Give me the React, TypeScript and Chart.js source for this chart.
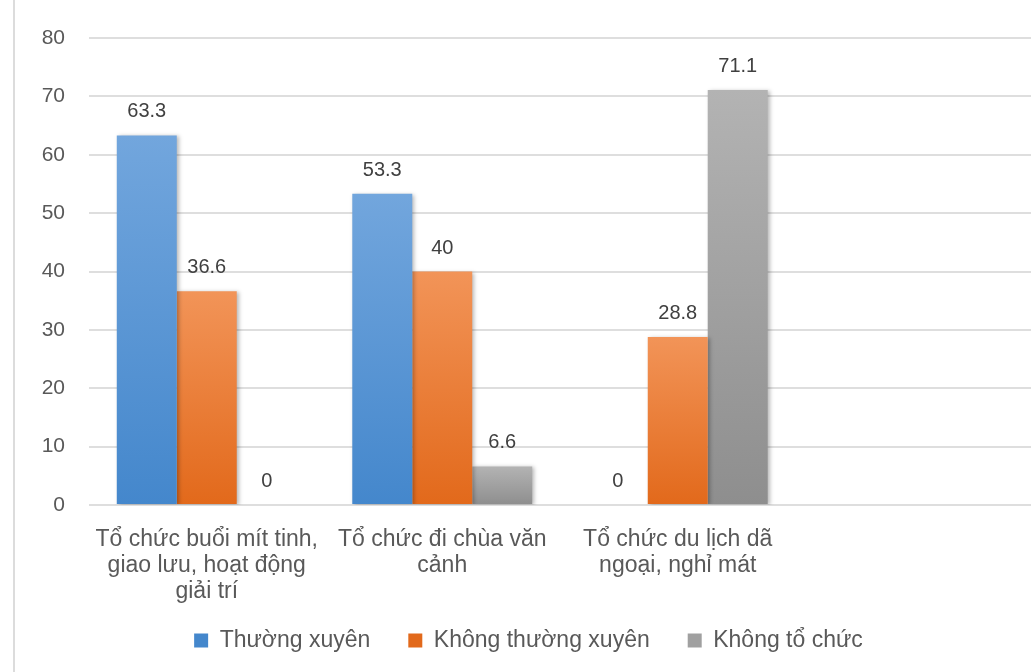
import React, { useEffect, useRef } from 'react';
import { Chart, registerables } from 'chart.js';

Chart.register(...registerables);

const categories: (string | string[])[] = [
  ['Tổ chức buổi mít tinh,', 'giao lưu, hoạt động', 'giải trí'],
  ['Tổ chức đi chùa văn', 'cảnh'],
  ['Tổ chức du lịch dã', 'ngoại, nghỉ mát'],
  '',
];
const seriesNames = ['Thường xuyên', 'Không thường xuyên', 'Không tổ chức'];
const thuongXuyen = [63.3, 53.3, 0, null];
const khongThuongXuyen = [36.6, 40, 28.8, null];
const khongToChuc = [0, 6.6, 71.1, null];
const yMin = 0;
const yMax = 80;
const yStep = 10;

const FONT = '"Liberation Sans", Arial, sans-serif';

function gradient(top: string, bottom: string, mid: string) {
  return (ctx: any) => {
    const chart = ctx.chart;
    if (!chart.chartArea || ctx.type !== 'data') return mid;
    const v = ctx.raw;
    if (v == null) return mid;
    const ys = chart.scales.y;
    const yTop = ys.getPixelForValue(v);
    const yBot = ys.getPixelForValue(0);
    if (!isFinite(yTop) || yBot - yTop < 1) return mid;
    const g = chart.ctx.createLinearGradient(0, yTop, 0, yBot);
    g.addColorStop(0, top);
    g.addColorStop(1, bottom);
    return g;
  };
}

const pageBorder = {
  id: 'pageBorder',
  beforeDraw(chart: any) {
    const { ctx } = chart;
    ctx.save();
    ctx.strokeStyle = '#dcdcdc';
    ctx.lineWidth = 2;
    ctx.beginPath();
    ctx.moveTo(14, 0);
    ctx.lineTo(14, chart.height);
    ctx.stroke();
    ctx.restore();
  },
};

// let the multi-line category labels extend below the axis box without being clipped
const labelRoom = {
  id: 'labelRoom',
  afterLayout(chart: any) {
    const x = chart.scales.x;
    x.bottom = x.top + 110;
  },
};

const barShadow = {
  id: 'barShadow',
  beforeDatasetDraw(chart: any) {
    const { ctx } = chart;
    ctx.save();
    ctx.shadowColor = 'rgba(0,0,0,0.28)';
    ctx.shadowBlur = 4;
    ctx.shadowOffsetX = 2;
    ctx.shadowOffsetY = 1;
  },
  afterDatasetDraw(chart: any) {
    chart.ctx.restore();
  },
};

const valueLabels = {
  id: 'valueLabels',
  afterDatasetsDraw(chart: any) {
    const { ctx } = chart;
    ctx.save();
    ctx.font = `20px ${FONT}`;
    ctx.fillStyle = '#404040';
    ctx.textAlign = 'center';
    ctx.textBaseline = 'alphabetic';
    chart.data.datasets.forEach((ds: any, i: number) => {
      const meta = chart.getDatasetMeta(i);
      meta.data.forEach((bar: any, j: number) => {
        const v = ds.data[j];
        if (v == null) return;
        ctx.fillText(String(v), bar.x, bar.y - 18);
      });
    });
    ctx.restore();
  },
};

export default function App() {
  const ref = useRef<HTMLCanvasElement>(null);

  useEffect(() => {
    if (!ref.current) return;
    const chart = new Chart(ref.current, {
      type: 'bar',
      data: {
        labels: categories,
        datasets: [
          {
            label: seriesNames[0],
            data: thuongXuyen,
            backgroundColor: gradient('#72a6dd', '#4487cc', '#4f90d4'),
            borderWidth: 0,
          },
          {
            label: seriesNames[1],
            data: khongThuongXuyen,
            backgroundColor: gradient('#f29458', '#e2691b', '#ec7a30'),
            borderWidth: 0,
          },
          {
            label: seriesNames[2],
            data: khongToChuc,
            backgroundColor: gradient('#b3b3b3', '#8e8e8e', '#a0a0a0'),
            borderWidth: 0,
          },
        ],
      },
      options: {
        responsive: false,
        animation: false,
        layout: { padding: { top: 38, left: 26, right: 0, bottom: 10 } },
        datasets: {
          bar: { categoryPercentage: 0.764, barPercentage: 1.0 },
        },
        scales: {
          x: {
            grid: { display: false, drawTicks: false },
            border: { display: false },
            ticks: {
              color: '#595959',
              padding: 22,
              maxRotation: 0,
              autoSkip: false,
              font: { family: FONT, size: 23, lineHeight: 26 / 23 },
            },
            afterFit: (s: any) => {
              s.height = 86;
            },
          },
          y: {
            min: yMin,
            max: yMax,
            grid: { color: '#dedede', lineWidth: 2, drawTicks: false },
            border: { display: false },
            ticks: {
              stepSize: yStep,
              color: '#595959',
              padding: 24,
              font: { family: FONT, size: 21 },
            },
            afterFit: (s: any) => {
              s.width = 63;
            },
          },
        },
        plugins: {
          legend: {
            position: 'bottom',
            labels: {
              boxWidth: 14,
              boxHeight: 14,
              padding: 38,
              color: '#595959',
              font: { family: FONT, size: 23 },
            },
          },
          tooltip: { enabled: false },
        },
      },
      plugins: [pageBorder, labelRoom, barShadow, valueLabels],
    } as any);
    return () => chart.destroy();
  }, []);

  return (
    <div style={{ position: 'fixed', left: 0, top: 0, width: 1031, height: 672, background: '#fff' }}>
      <canvas ref={ref} width={1031} height={672} style={{ display: 'block' }} />
    </div>
  );
}
